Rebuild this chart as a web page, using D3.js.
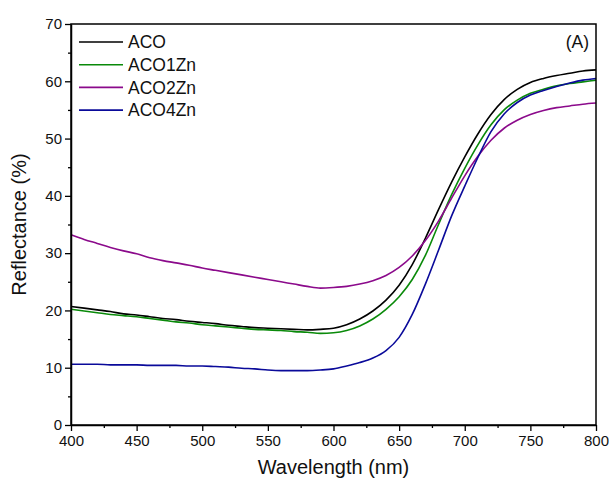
<!DOCTYPE html>
<html><head><meta charset="utf-8">
<script src="https://cdn.jsdelivr.net/npm/d3@7"></script>
<style>body{margin:0;background:#fff}svg{display:block}text{font-family:"Liberation Sans",Arial,sans-serif;fill:#111}</style>
</head><body>
<script>
const wavelength = [400,410,420,430,440,450,460,470,480,490,500,510,520,530,540,550,560,570,580,590,600,610,620,630,640,650,660,670,680,690,700,710,720,730,740,750,760,770,780,790,800];
const aco      = [20.7,20.4,20.1,19.8,19.4,19.2,18.9,18.6,18.4,18.1,17.9,17.7,17.4,17.2,17.0,16.9,16.8,16.7,16.6,16.7,16.9,17.5,18.5,19.9,21.8,24.4,28.0,32.6,37.6,42.4,46.8,50.8,54.2,56.8,58.6,59.8,60.5,61.0,61.4,61.8,62.0];
const aco1zn   = [20.2,19.9,19.6,19.3,19.1,18.9,18.6,18.3,18.0,17.8,17.5,17.3,17.1,16.9,16.7,16.6,16.5,16.3,16.2,16.0,16.1,16.5,17.3,18.5,20.2,22.4,25.4,29.6,35.0,40.2,44.8,48.9,52.4,55.0,56.7,57.9,58.6,59.2,59.6,59.9,60.2];
const aco2zn   = [33.2,32.4,31.7,31.0,30.4,29.9,29.2,28.7,28.3,27.9,27.4,27.0,26.6,26.2,25.8,25.4,25.0,24.6,24.2,23.9,24.0,24.2,24.6,25.2,26.1,27.5,29.5,32.2,35.6,39.6,43.5,46.9,49.7,51.8,53.2,54.2,54.9,55.4,55.7,56.0,56.2];
const aco4zn   = [10.6,10.6,10.6,10.5,10.5,10.5,10.4,10.4,10.4,10.3,10.3,10.2,10.1,9.9,9.8,9.6,9.5,9.5,9.5,9.6,9.8,10.3,10.9,11.7,13.0,15.3,19.3,24.6,30.5,36.5,41.7,46.7,51.2,54.3,56.3,57.6,58.4,59.1,59.7,60.2,60.5];
const seriesNames = ["ACO","ACO1Zn","ACO2Zn","ACO4Zn"];
const seriesColors = ["#000000","#0a8a0a","#8b0a8b","#0a0a9a"];
const xTicks = [400,450,500,550,600,650,700,750,800];
const yTicks = [0,10,20,30,40,50,60,70];
const xLabel = "Wavelength (nm)";
const yLabel = "Reflectance (%)";
const panelLabel = "(A)";

const W = 609, H = 480;
const m = {l:71, r:13, t:24, b:55};
const svg = d3.select("body").append("svg").attr("width",W).attr("height",H);
const x = d3.scaleLinear().domain([400,800]).range([m.l, W-m.r]);
const y = d3.scaleLinear().domain([0,70]).range([H-m.b, m.t]);

const allSeries = [aco, aco1zn, aco2zn, aco4zn];
const line = d3.line().x((d,i)=>x(wavelength[i])).y(d=>y(d)).curve(d3.curveMonotoneX);
const g = svg.append("g");
allSeries.forEach((s,k)=>{
  g.append("path").datum(s).attr("d",line).attr("fill","none")
   .attr("stroke",seriesColors[k]).attr("stroke-width",1.6);
});

// frame
svg.append("rect").attr("x",m.l).attr("y",m.t).attr("width",W-m.r-m.l).attr("height",H-m.b-m.t)
  .attr("fill","none").attr("stroke","#000").attr("stroke-width",1.5);

const xMinor = d3.range(425,800,50);
const yMinor = d3.range(5,70,10);
svg.append("g").attr("transform",`translate(0,${H-m.b})`)
  .call(d3.axisBottom(x).tickValues(xTicks).tickSize(6).tickSizeOuter(0).tickPadding(4).tickFormat(d3.format("d")));
svg.append("g").attr("transform",`translate(0,${H-m.b})`)
  .call(d3.axisBottom(x).tickValues(xMinor).tickSize(3).tickSizeOuter(0).tickFormat(""))
  .select(".domain").remove();
svg.append("g").attr("transform",`translate(${m.l},0)`)
  .call(d3.axisLeft(y).tickValues(yTicks).tickSize(6).tickSizeOuter(0).tickPadding(3));
svg.append("g").attr("transform",`translate(${m.l},0)`)
  .call(d3.axisLeft(y).tickValues(yMinor).tickSize(3).tickSizeOuter(0).tickFormat(""))
  .select(".domain").remove();
svg.selectAll(".domain").attr("stroke-width",1.5);
svg.selectAll(".tick line").attr("stroke-width",1.3);
svg.selectAll(".tick text").style("font-size","15px").style("font-family","'Liberation Sans',Arial,sans-serif").attr("fill","#111");

svg.append("text").attr("x",(m.l+W-m.r)/2).attr("y",474).attr("text-anchor","middle")
  .style("font-size","20px").text(xLabel);
svg.append("text").attr("transform",`translate(26,${(m.t+H-m.b)/2}) rotate(-90)`).attr("text-anchor","middle")
  .style("font-size","20px").text(yLabel);

svg.append("text").attr("x",589).attr("y",48).attr("text-anchor","end").style("font-size","17.5px").text(panelLabel);

const lg = svg.append("g");
seriesNames.forEach((n,i)=>{
  const yy = 42 + i*22.7;
  lg.append("line").attr("x1",79).attr("x2",123).attr("y1",yy).attr("y2",yy)
    .attr("stroke",seriesColors[i]).attr("stroke-width",1.6);
  lg.append("text").attr("x",128).attr("y",yy).attr("dy","0.36em").style("font-size","17.5px").text(n);
});
</script>
</body></html>
